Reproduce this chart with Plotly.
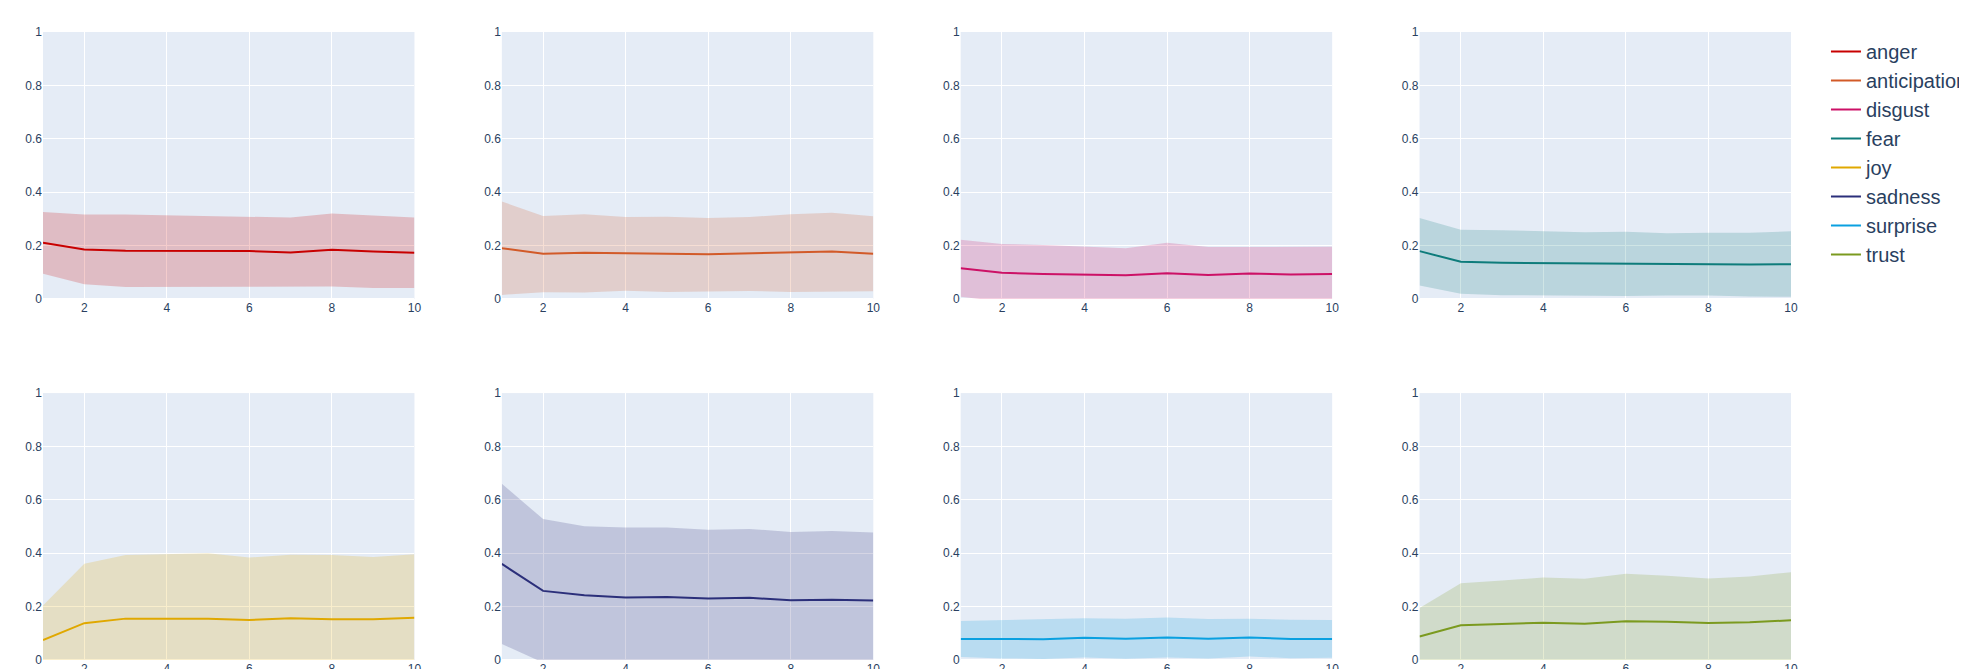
import plotly.graph_objects as go
from plotly.subplots import make_subplots

x_vals = [1, 2, 3, 4, 5, 6, 7, 8, 9, 10]
emotions = ["anger", "anticipation", "disgust", "fear", "joy", "sadness", "surprise", "trust"]

anger_mean = [0.210, 0.185, 0.180, 0.180, 0.180, 0.179, 0.174, 0.184, 0.178, 0.173]
anger_upper = [0.326, 0.316, 0.316, 0.313, 0.310, 0.307, 0.305, 0.320, 0.313, 0.305]
anger_lower = [0.094, 0.055, 0.045, 0.045, 0.044, 0.044, 0.044, 0.046, 0.041, 0.041]

anticipation_mean = [0.190, 0.169, 0.173, 0.170, 0.169, 0.167, 0.170, 0.173, 0.178, 0.169]
anticipation_upper = [0.365, 0.311, 0.317, 0.307, 0.308, 0.303, 0.307, 0.317, 0.323, 0.310]
anticipation_lower = [0.015, 0.025, 0.024, 0.031, 0.026, 0.029, 0.030, 0.026, 0.028, 0.029]

disgust_mean = [0.115, 0.098, 0.093, 0.091, 0.089, 0.096, 0.090, 0.095, 0.091, 0.093]
disgust_upper = [0.222, 0.206, 0.202, 0.195, 0.190, 0.210, 0.194, 0.194, 0.195, 0.195]
disgust_lower = [0.008, -0.010, -0.016, -0.013, -0.012, -0.018, -0.014, -0.004, -0.013, -0.009]

fear_mean = [0.179, 0.139, 0.135, 0.134, 0.133, 0.132, 0.130, 0.130, 0.129, 0.130]
fear_upper = [0.303, 0.259, 0.257, 0.253, 0.250, 0.252, 0.246, 0.248, 0.248, 0.253]
fear_lower = [0.050, 0.019, 0.014, 0.013, 0.011, 0.011, 0.013, 0.013, 0.009, 0.008]

joy_mean = [0.075, 0.138, 0.155, 0.155, 0.155, 0.150, 0.156, 0.153, 0.153, 0.158]
joy_upper = [0.204, 0.361, 0.393, 0.397, 0.400, 0.384, 0.394, 0.393, 0.386, 0.396]
joy_lower = [-0.054, -0.086, -0.083, -0.087, -0.090, -0.084, -0.082, -0.088, -0.081, -0.081]

sadness_mean = [0.360, 0.259, 0.243, 0.234, 0.236, 0.230, 0.233, 0.224, 0.226, 0.223]
sadness_upper = [0.660, 0.528, 0.501, 0.496, 0.496, 0.488, 0.491, 0.480, 0.483, 0.478]
sadness_lower = [0.060, -0.010, -0.016, -0.028, -0.024, -0.028, -0.026, -0.032, -0.030, -0.033]

surprise_mean = [0.079, 0.079, 0.078, 0.083, 0.080, 0.084, 0.080, 0.084, 0.079, 0.079]
surprise_upper = [0.146, 0.149, 0.151, 0.156, 0.155, 0.159, 0.154, 0.155, 0.151, 0.150]
surprise_lower = [0.011, 0.006, 0.004, 0.009, 0.005, 0.009, 0.006, 0.013, 0.007, 0.008]

trust_mean = [0.088, 0.130, 0.135, 0.140, 0.136, 0.145, 0.143, 0.139, 0.141, 0.149]
trust_upper = [0.195, 0.288, 0.298, 0.309, 0.304, 0.323, 0.316, 0.305, 0.313, 0.329]
trust_lower = [-0.020, -0.028, -0.028, -0.029, -0.032, -0.033, -0.031, -0.027, -0.031, -0.031]

means = [anger_mean, anticipation_mean, disgust_mean, fear_mean, joy_mean, sadness_mean, surprise_mean, trust_mean]
uppers = [anger_upper, anticipation_upper, disgust_upper, fear_upper, joy_upper, sadness_upper, surprise_upper, trust_upper]
lowers = [anger_lower, anticipation_lower, disgust_lower, fear_lower, joy_lower, sadness_lower, surprise_lower, trust_lower]

colors = [(200, 0, 0), (210, 90, 40), (204, 17, 102), (14, 124, 123),
          (224, 168, 0), (43, 47, 122), (10, 160, 224), (123, 154, 31)]

fig = make_subplots(rows=2, cols=4, horizontal_spacing=0.05, vertical_spacing=0.15)

for i, name in enumerate(emotions):
    r = i // 4 + 1
    c = i % 4 + 1
    rr, gg, bb = colors[i]
    fig.add_trace(go.Scatter(x=x_vals, y=uppers[i], mode="lines", line=dict(width=0),
                             showlegend=False, hoverinfo="skip"), row=r, col=c)
    fig.add_trace(go.Scatter(x=x_vals, y=lowers[i], mode="lines", line=dict(width=0),
                             fill="tonexty", fillcolor=f"rgba({rr},{gg},{bb},0.2)",
                             showlegend=False, hoverinfo="skip"), row=r, col=c)
    fig.add_trace(go.Scatter(x=x_vals, y=means[i], mode="lines", name=name,
                             line=dict(color=f"rgb({rr},{gg},{bb})", width=2)), row=r, col=c)

fig.update_xaxes(range=[1, 10], tickfont=dict(size=12))
fig.update_yaxes(range=[0, 1], tickfont=dict(size=12))

fig.update_layout(
    width=1967, height=669,
    template="plotly",
    font=dict(family="Arial, Liberation Sans, sans-serif"),
    margin=dict(l=35, r=184, t=24, b=17, autoexpand=False),
    legend=dict(font=dict(size=20), x=1.02, y=1, traceorder="normal"),
)

fig.write_html("out.html")
